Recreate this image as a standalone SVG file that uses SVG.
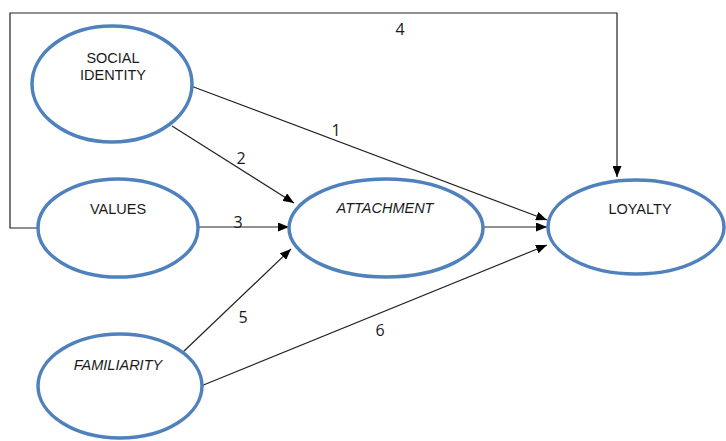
<svg xmlns="http://www.w3.org/2000/svg" width="726" height="441" viewBox="0 0 726 441">
<defs>
<style>
.node{fill:#fff;stroke:#4f81bd;stroke-width:3.5}
.lbl{font-family:"Liberation Sans",Arial,sans-serif;font-size:14.5px;fill:#1a1a1a;text-anchor:middle}
.it{font-style:italic}
.num{font-family:"Open Sans","Liberation Sans",sans-serif;font-size:16px;fill:#1a1a1a;text-anchor:middle}
.ln{fill:none;stroke:#222;stroke-width:1.2}
</style>
<marker id="ah" viewBox="0 0 11 9" refX="11" refY="4.5" markerWidth="11" markerHeight="9" markerUnits="userSpaceOnUse" orient="auto">
<path d="M0,0 L11,4.5 L0,9 Z" fill="#000"/>
</marker>
</defs>
<rect width="726" height="441" fill="#fff"/>
<g id="connectors">
<polyline class="ln" points="38,228 10,228 10,13 617,13 617,177" marker-end="url(#ah)"/>
<line class="ln" x1="191" y1="86" x2="547" y2="220" marker-end="url(#ah)"/>
<line class="ln" x1="172" y1="126" x2="294" y2="203" marker-end="url(#ah)"/>
<line class="ln" x1="199" y1="227" x2="289" y2="227" marker-end="url(#ah)"/>
<line class="ln" x1="182" y1="353" x2="291" y2="249" marker-end="url(#ah)"/>
<line class="ln" x1="201" y1="386" x2="547" y2="245" marker-end="url(#ah)"/>
<line class="ln" x1="484" y1="227" x2="547" y2="227" marker-end="url(#ah)"/>
<text class="num" x="400" y="35">4</text>
<text class="num" x="336" y="136">1</text>
<text class="num" x="241" y="164">2</text>
<text class="num" x="238" y="228">3</text>
<text class="num" x="243" y="323">5</text>
<text class="num" x="380" y="336">6</text>
</g>
<g id="social-identity">
<ellipse class="node" cx="112" cy="84" rx="80" ry="58"/>
<text class="lbl" x="113" y="63">SOCIAL</text>
<text class="lbl" x="113" y="80">IDENTITY</text>
</g>
<g id="values">
<ellipse class="node" cx="118" cy="228" rx="80" ry="49"/>
<text class="lbl" x="118" y="214">VALUES</text>
</g>
<g id="familiarity">
<ellipse class="node" cx="120" cy="386" rx="82" ry="52"/>
<text class="lbl it" x="118" y="370">FAMILIARITY</text>
</g>
<g id="attachment">
<ellipse class="node" cx="386" cy="228" rx="97" ry="49"/>
<text class="lbl it" x="385" y="213">ATTACHMENT</text>
</g>
<g id="loyalty">
<ellipse class="node" cx="636" cy="227" rx="88" ry="47"/>
<text class="lbl" x="640" y="214">LOYALTY</text>
</g>
</svg>
